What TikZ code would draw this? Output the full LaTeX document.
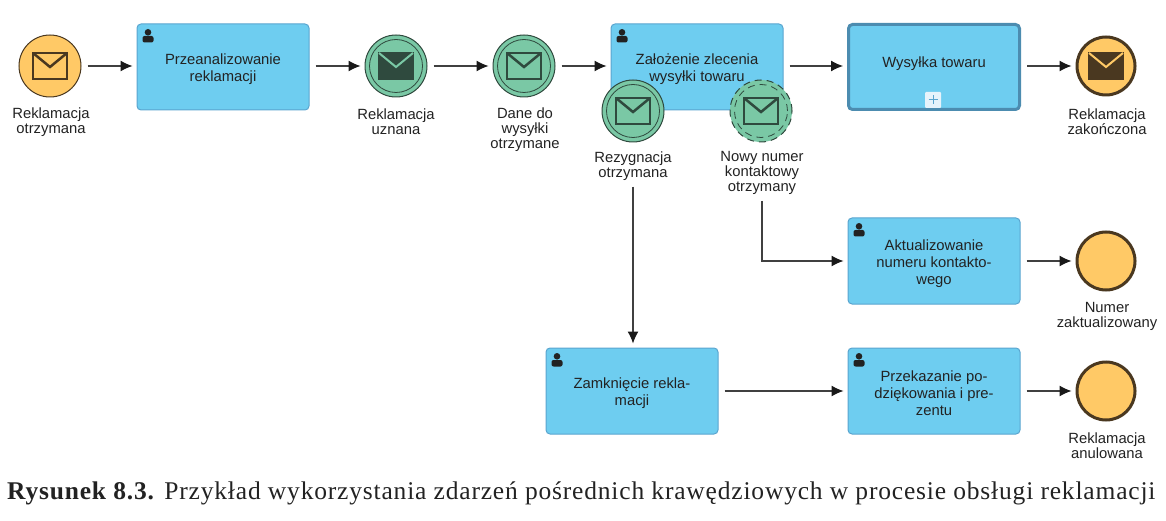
\documentclass[tikz,border=0pt]{standalone}
\usepackage{fontspec}
\setmainfont{Liberation Sans}
\newfontfamily\captionserif[LetterSpace=3.2]{Liberation Serif}
\usetikzlibrary{arrows.meta}
\usetikzlibrary{calc}

\definecolor{taskblue}{HTML}{6ECDF0}
\definecolor{taskedge}{HTML}{5AA5CF}
\definecolor{plusfill}{HTML}{E6F3FB}
\definecolor{startyellow}{HTML}{FFC966}
\definecolor{brownedge}{HTML}{4A3820}
\definecolor{eventgreen}{HTML}{7AC8A5}
\definecolor{greenedge}{HTML}{2F4A3E}
\definecolor{inktext}{HTML}{222222}

\newcommand{\lowertext}{\rule{0pt}{16pt}}
\newcommand{\raisetext}{\rule[-9pt]{0pt}{9pt}}

\tikzset{
  task/.style={draw=taskedge, fill=taskblue, rounded corners=4pt, line width=1pt, minimum width=172pt, minimum height=86pt, inner sep=0pt, align=center, text=inktext, font=\fontsize{14.8}{17}\selectfont},
  subtask/.style={task, draw=taskedge!85!black, line width=3pt, minimum width=171pt, minimum height=85pt},
  startevent/.style={circle, draw=brownedge, fill=startyellow, line width=1pt, minimum size=62pt, inner sep=0pt},
  endevent/.style={circle, draw=brownedge, fill=startyellow, line width=3pt, minimum size=58pt, inner sep=0pt},
  midevent/.style={circle, draw=greenedge, fill=eventgreen, line width=1pt, minimum size=62pt, inner sep=0pt,
    path picture={\draw[line width=0.8pt] (path picture bounding box.center) circle (26.5pt);}},
  dashevent/.style={circle, draw=greenedge, fill=eventgreen, dash pattern=on 7pt off 5pt, line width=1pt, minimum size=62pt, inner sep=0pt,
    path picture={\draw[line width=0.8pt, dash pattern=on 7pt off 5pt] (path picture bounding box.center) circle (26.5pt);}},
  evlabel/.style={align=center, inner sep=0pt, text=inktext, font=\fontsize{14.8}{15}\selectfont},
  flow/.style={draw=black!75, line width=1.2pt, -{Latex[length=12pt, width=11pt, color=black!90]}, shorten <=6pt, shorten >=4pt},
  envelope/.pic={
    \draw[pic actions, line width=2.5pt] (-17,-13) rectangle (17,13);
    \draw[pic actions, fill=none, line width=2.5pt] (-17,-13) -- (0,1) -- (17,-13);
  },
  user/.pic={
    \fill[inktext] (0,-3.7) circle (3.3pt);
    \fill[inktext, rounded corners=2pt] (-5.5,6.5) -- (-5.5,0) -- (5.5,0) -- (5.5,6.5) -- cycle;
  },
}

\begin{document}
\begin{tikzpicture}[x=1pt, y=-1pt]
  \useasboundingbox (0,0) rectangle (1166,521);

  % tasks
  \node[task] (analyze) at (223,67) {\lowertext Przeanalizowanie\\reklamacji};
  \node[task] (order) at (697,67) {\lowertext Założenie zlecenia\\wysyłki towaru};
  \node[subtask] (ship) at (934,67) {\raisetext Wysyłka towaru};
  \node[task] (update) at (934,261) {\lowertext Aktualizowanie\\numeru kontakto-\\wego};
  \node[task] (close) at (632,391) {\lowertext Zamknięcie rekla-\\macji};
  \node[task] (thanks) at (934,391) {\lowertext Przekazanie po-\\dziękowania i pre-\\zentu};

  \pic at (148,36) {user};
  \pic at (622,36) {user};
  \pic at (859,230) {user};
  \pic at (557,360) {user};
  \pic at (859,360) {user};

  % marker of the subprocess
  \node[fill=plusfill, rounded corners=1pt, minimum size=16pt, inner sep=0pt] (plus) at (933,100) {};
  \draw[taskedge, line width=1pt] ($(plus.center)+(-4.5,0)$) -- ($(plus.center)+(4.5,0)$);
  \draw[taskedge, line width=1pt] ($(plus.center)+(0,-4.5)$) -- ($(plus.center)+(0,4.5)$);

  % events
  \node[startevent] (received) at (50,66) {};
  \node[midevent] (accepted) at (396,66) {};
  \node[midevent] (data) at (524,66) {};
  \node[midevent] (cancel) at (633,111) {};
  \node[dashevent] (newnumber) at (761,111) {};
  \node[endevent] (finished) at (1106,66) {};
  \node[endevent] (updated) at (1106,261) {};
  \node[endevent] (cancelled) at (1106,391) {};

  \pic[draw=brownedge] at (50,66) {envelope};
  \pic[draw=greenedge, fill=greenedge] at (396,66) {envelope};
  \draw[eventgreen, line width=2pt] (379,53) -- (396,67) -- (413,53);
  \pic[draw=greenedge] at (524,66) {envelope};
  \pic[draw=greenedge] at (633,111) {envelope};
  \pic[draw=greenedge] at (761,111) {envelope};
  \pic[draw=brownedge, fill=brownedge] at (1106,66) {envelope};
  \draw[startyellow, line width=2pt] (1089,53) -- (1106,67) -- (1123,53);

  % labels
  \node[evlabel] (receivedtext) at (51,122) {Reklamacja\\otrzymana};
  \node[evlabel] (acceptedtext) at (396,122) {Reklamacja\\uznana};
  \node[evlabel] (datatext) at (525,130) {Dane do\\wysyłki\\otrzymane};
  \node[evlabel] (canceltext) at (633,166) {Rezygnacja\\otrzymana};
  \node[evlabel] (numbertext) at (762,173) {Nowy numer\\kontaktowy\\otrzymany};
  \node[evlabel] (finishedtext) at (1107,122) {Reklamacja\\zakończona};
  \node[evlabel] (updatedtext) at (1107,316) {Numer\\zaktualizowany};
  \node[evlabel] (cancelledtext) at (1107,446) {Reklamacja\\anulowana};

  % flows
  \draw[flow] (received) -- (received -| analyze.west);
  \draw[flow] (analyze.east |- accepted) -- (accepted);
  \draw[flow] (accepted) -- (data);
  \draw[flow] (data) -- (data -| order.west);
  \draw[flow] (order.east |- finished) -- (ship.west |- finished);
  \draw[flow] (ship.east |- finished) -- (finished);
  \draw[flow] (update) -- (updated);
  \draw[flow] (thanks) -- (cancelled);
  \draw[flow] (close) -- (thanks);
  \draw[flow] (canceltext) -- (canceltext |- close.north);
  \draw[flow] (numbertext) |- (update);

  % caption
  \node[anchor=base west, inner sep=0pt, text=inktext, font=\captionserif\fontsize{25.5}{28}\selectfont] (caption) at (7,499) {\textbf{Rysunek 8.3.} Przykład wykorzystania zdarzeń pośrednich krawędziowych w procesie obsługi reklamacji};
\end{tikzpicture}
\end{document}
